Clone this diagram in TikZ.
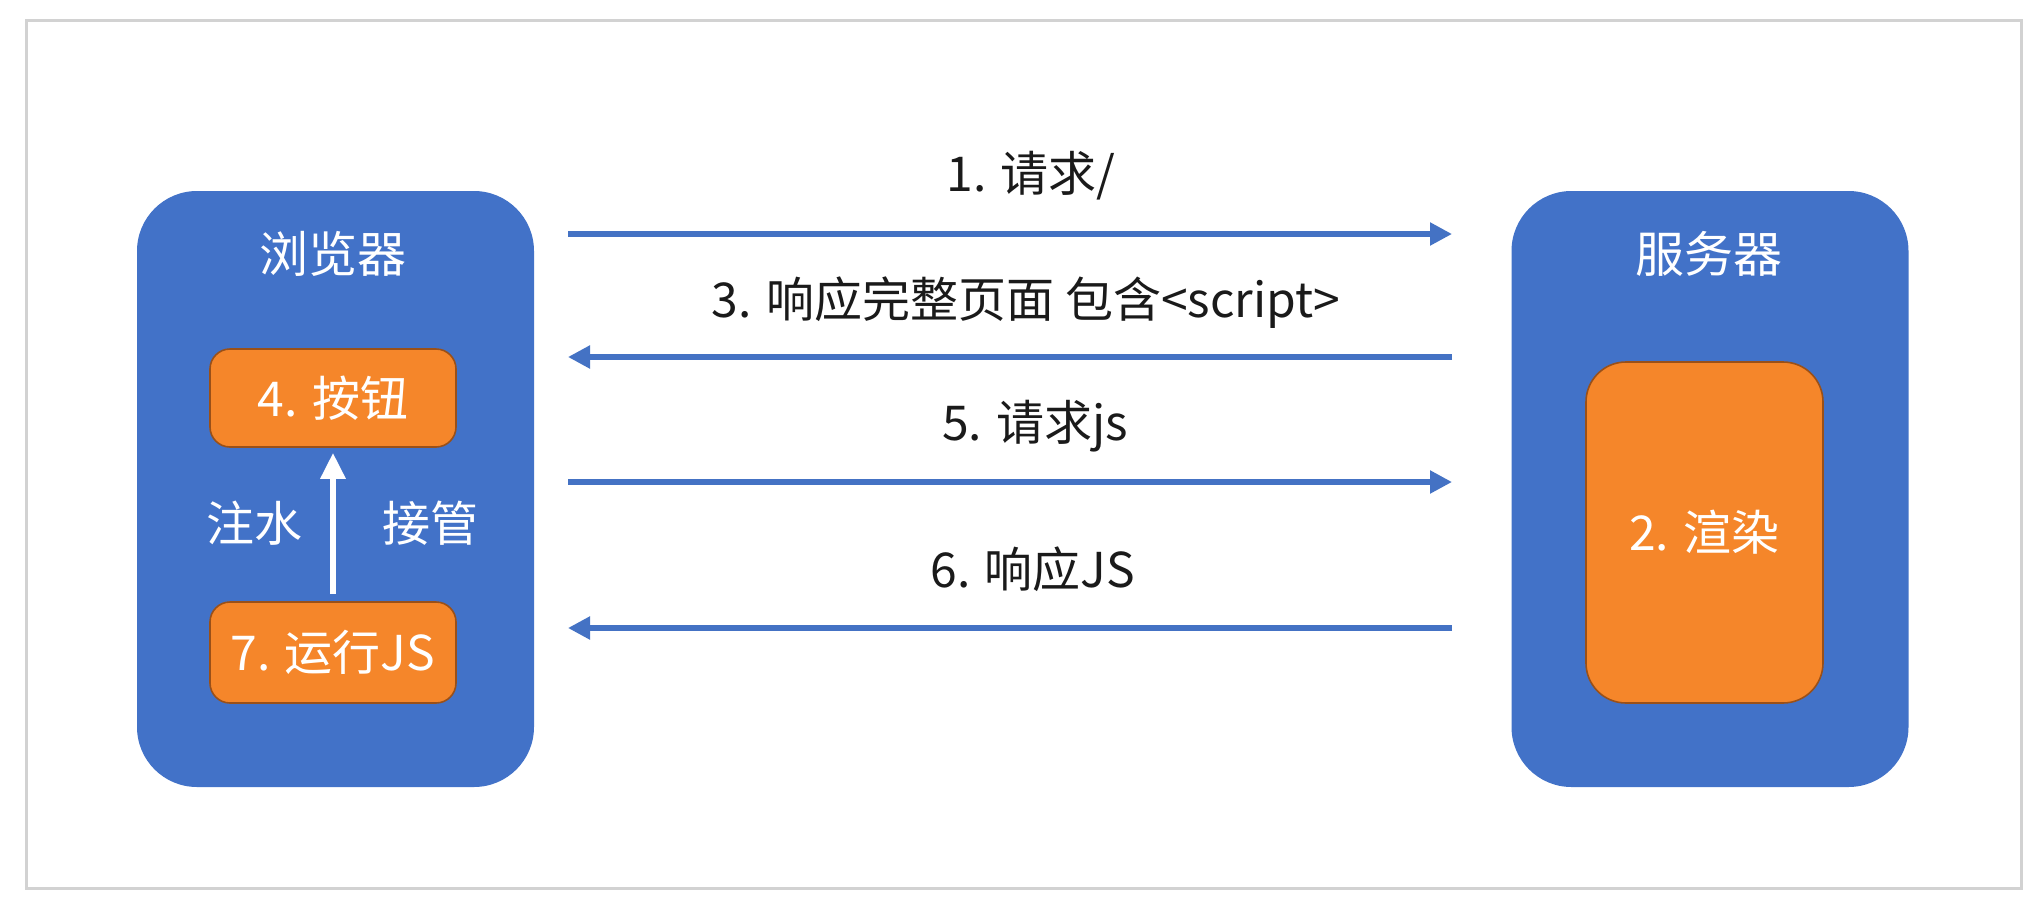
\documentclass[tikz,border=0pt]{standalone}
\usepackage{fontspec}
\setmainfont{Noto Sans CJK SC}
\usetikzlibrary{arrows.meta}
\definecolor{boxblue}{HTML}{4272C8}
\definecolor{arrblue}{HTML}{4472C4}
\definecolor{boxorange}{HTML}{F5862A}
\definecolor{orangeedge}{HTML}{9A5018}
\definecolor{framegray}{HTML}{D2D2D2}
\definecolor{txt}{HTML}{1A1A1A}
\tikzset{
  bigbox/.style={fill=boxblue, draw=none, rounded corners=30pt, minimum width=198.5pt, minimum height=298pt, inner sep=0pt},
  smallbox/.style={fill=boxorange, draw=orangeedge, line width=0.8pt, rounded corners=10pt, minimum width=123pt, minimum height=49pt, inner sep=0pt, text=white, font=\fontsize{24}{27}\selectfont},
  title/.style={text=white, font=\fontsize{24.5}{28}\selectfont, inner sep=0pt},
  lbl/.style={text=txt, font=\fontsize{24}{27}\selectfont, inner sep=0pt},
  wlbl/.style={text=white, font=\fontsize{24}{27}\selectfont, inner sep=0pt},
  flow/.style={draw=arrblue, line width=2.6pt, -{Triangle[length=11pt, width=11pt]}},
}
\begin{document}
\begin{tikzpicture}[x=0.5pt, y=-0.5pt]
\useasboundingbox (0,0) rectangle (2042,916);
\fill[white] (0,0) rectangle (2042,916);
\draw[framegray, line width=1.5pt] (26,20) rectangle (2021,888);

% main boxes
\node[bigbox] (browser) at (335.5,489) {};
\node[bigbox] (server) at (1710,489) {};
\node[title] (btitle) at (333,254) {浏览器};
\node[title] (stitle) at (1709,254) {服务器};

% orange boxes
\node[smallbox] (b4) at (333,398) {4. 按钮};
\node[smallbox, minimum height=50.5pt] (b7) at (333,652.5) {7. 运行JS};
\node[smallbox, minimum width=118.5pt, minimum height=170.5pt, rounded corners=20pt] (b2) at (1704.5,532.5) {2. 渲染};

% hydration arrow
\draw[white, line width=3pt, -{Triangle[length=13pt, width=12pt]}, shorten <=3.5pt, shorten >=2.5pt] (b7.north) -- (b4.south);
\node[wlbl] (zs) at (254,523) {注水};
\node[wlbl] (jg) at (430,523) {接管};

% flow coordinates
\coordinate (l1) at (568,234); \coordinate (r1) at (1452,234);
\coordinate (l3) at (568,357); \coordinate (r3) at (1452,357);
\coordinate (l5) at (568,482); \coordinate (r5) at (1452,482);
\coordinate (l6) at (568,628); \coordinate (r6) at (1452,628);

\draw[flow] (l1) -- (r1);
\draw[flow] (r3) -- (l3);
\draw[flow] (l5) -- (r5);
\draw[flow] (r6) -- (l6);

\node[lbl] (t1) at (1031,176) {1. 请求/};
\node[lbl] (t3) at (1026,303) {3. 响应完整页面 包含<script>};
\node[lbl] (t5) at (1035,426) {5. 请求js};
\node[lbl] (t6) at (1033,569) {6. 响应JS};
\end{tikzpicture}
\end{document}
